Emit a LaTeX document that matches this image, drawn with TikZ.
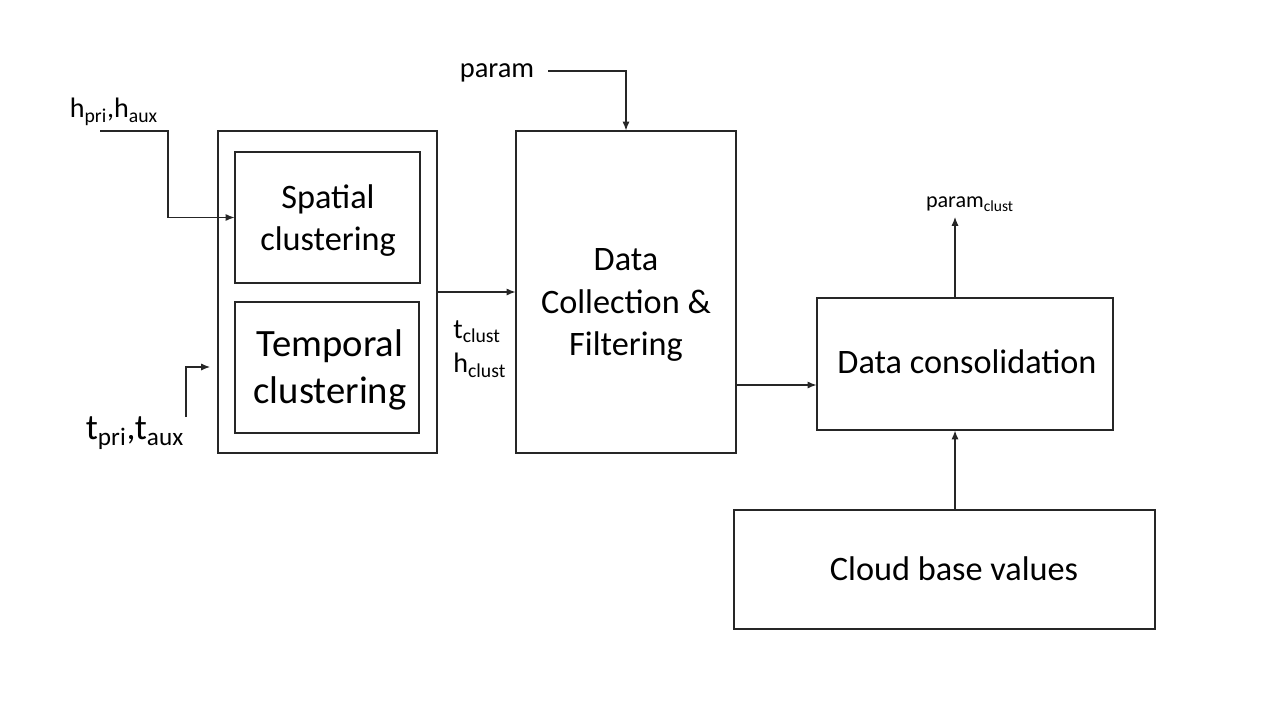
\documentclass[tikz,border=0pt]{standalone}
\usepackage{fontspec}
\setmainfont{Carlito}
\usetikzlibrary{arrows.meta}
\newcommand{\fs}[2]{\fontsize{#1}{#2}\selectfont}
\begin{document}
\begin{tikzpicture}[x=0.02cm,y=-0.02cm,
  box/.style={draw=black!85,line width=0.65pt,inner sep=0pt,align=center},
  txt/.style={inner sep=0pt,align=center},
  arr/.style={draw=black!85,line width=0.65pt,-{Latex[length=5pt,width=4pt]}}]
\useasboundingbox (0,0) rectangle (1280,720);
% boxes
\node[box,minimum width=4.38cm,minimum height=6.44cm] (outer) at (327.5,292) {};
\node[box,minimum width=3.7cm,minimum height=2.62cm] (spatial) at (327.5,217.5) {};
\node[txt,font=\fs{19.5}{24.3}] (spatialtxt) at (328,220.5) {Spatial\\clustering};
\node[box,minimum width=3.68cm,minimum height=2.62cm] (temporal) at (327,367.5) {};
\node[txt,font=\fs{22}{26.8}] (temporaltxt) at (330,369.5) {Temporal\\clustering};
\node[box,minimum width=4.4cm,minimum height=6.44cm] (dcf) at (626,292) {};
\node[txt,font=\fs{19.5}{24.3}] (dcftxt) at (626,305) {Data\\Collection \&\\Filtering};
\node[box,minimum width=5.92cm,minimum height=2.64cm,font=\fs{19.5}{24.3}] (cons) at (965,364) {};
\node[txt,font=\fs{19.5}{24.3}] (constxt) at (967,362) {Data consolidation};
\node[box,minimum width=8.42cm,minimum height=2.38cm] (cloud) at (944.5,569.5) {};
\node[txt,font=\fs{19.5}{24.3}] (cloudtxt) at (954,569) {Cloud base values};
% labels
\node[txt,font=\fs{16}{19}] (hlab) at (114,112) {h\textsubscript{pri},h\textsubscript{aux}};
\node[txt,font=\fs{20.5}{24}] (tlab) at (135,433) {t\textsubscript{pri},t\textsubscript{aux}};
\node[txt,anchor=west,align=left,font=\fs{16}{19.5}] (clustlab) at (453,349) {t\textsubscript{clust}\\h\textsubscript{clust}};
\node[txt,font=\fs{16.2}{19}] (plab) at (497,73) {param};
\node[txt,font=\fs{12.6}{15}] (pclab) at (970,204) {param\textsubscript{clust}};
% coordinates
\coordinate (hs) at (100,131);
\coordinate (ts) at (186,417);
\coordinate (te) at (210,367);
\coordinate (ps) at (548,71);
\coordinate (y385) at (0,385);
\coordinate (pc) at (955,217);
% connectors
\draw[arr] (hs) -- (168,131) |- (spatial.west);
\draw[arr] (ts) |- (te);
\draw[arr] (outer) -- (dcf);
\draw[arr] (ps) -| (dcf.north);
\draw[arr] (dcf.east |- y385) -- (cons.west |- y385);
\draw[arr] (pc |- cons.north) -- (pc);
\draw[arr] (pc |- cloud.north) -- (pc |- cons.south);
\end{tikzpicture}
\end{document}
